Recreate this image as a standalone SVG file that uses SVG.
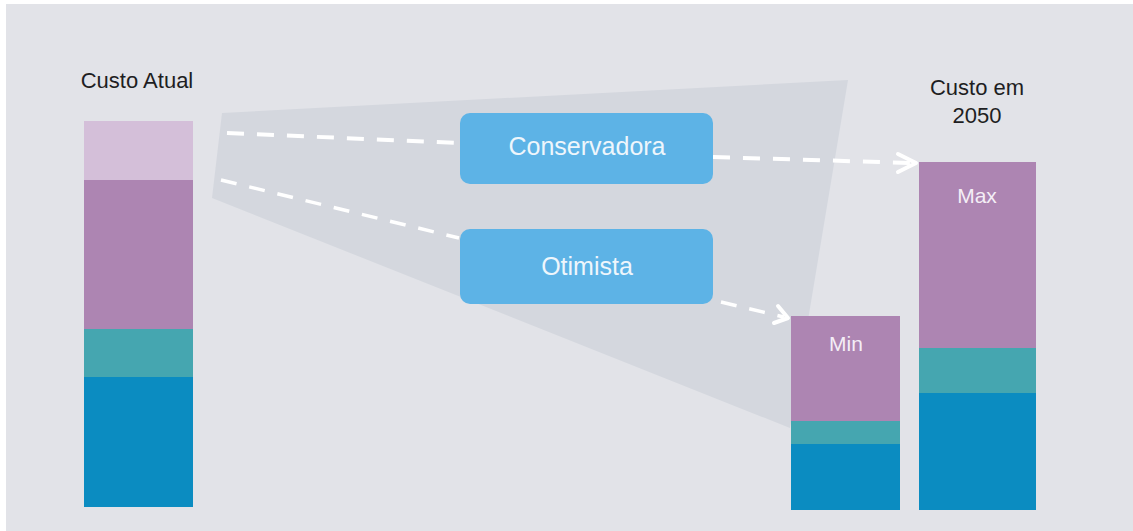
<svg xmlns="http://www.w3.org/2000/svg" width="1133" height="531" viewBox="0 0 1133 531">
  <defs>
    <style>
      .lbl { font-family: "Liberation Sans", Arial, sans-serif; font-size: 22px; fill: #1e1e22; text-anchor: middle; }
      .box { fill: #5db3e6; }
      .boxtxt { font-family: "Liberation Sans", Arial, sans-serif; font-size: 25px; fill: #eef6fc; text-anchor: middle; }
      .bartxt { font-family: "Liberation Sans", Arial, sans-serif; font-size: 21px; fill: #f4eef6; text-anchor: middle; }
      .lp { fill: #d4bfd9; }
      .pu { fill: #ad85b2; }
      .te { fill: #45a6b0; }
      .bl { fill: #0b8cc1; }
      .dash { fill: none; stroke: #ffffff; stroke-width: 4; stroke-dasharray: 17 13; }
      .dash2 { fill: none; stroke: #ffffff; stroke-width: 3.5; stroke-dasharray: 16 13; }
      .head { fill: none; stroke: #ffffff; stroke-width: 4; stroke-linecap: round; stroke-linejoin: round; }
    </style>
  </defs>
  <rect x="0" y="0" width="1133" height="531" fill="#ffffff"/>
  <rect x="6" y="4" width="1127" height="527" fill="#e2e3e8"/>
  <polygon points="222,113 848,80 790,428 212,198" fill="#d4d7de"/>

  <g id="custo-atual">
    <text class="lbl" x="137" y="88">Custo Atual</text>
    <rect class="lp" x="84" y="121" width="109" height="59"/>
    <rect class="pu" x="84" y="180" width="109" height="149"/>
    <rect class="te" x="84" y="329" width="109" height="48"/>
    <rect class="bl" x="84" y="377" width="109" height="130"/>
  </g>

  <g id="custo-2050-label">
    <text class="lbl" x="977" y="95">Custo em</text>
    <text class="lbl" x="977" y="123">2050</text>
  </g>

  <g id="min-bar">
    <rect class="pu" x="791" y="316" width="109" height="105"/>
    <rect class="te" x="791" y="421" width="109" height="23"/>
    <rect class="bl" x="791" y="444" width="109" height="66"/>
    <text class="bartxt" x="846" y="351">Min</text>
  </g>

  <g id="max-bar">
    <rect class="pu" x="919" y="162" width="117" height="186"/>
    <rect class="te" x="919" y="348" width="117" height="45"/>
    <rect class="bl" x="919" y="393" width="117" height="117"/>
    <text class="bartxt" x="977" y="203">Max</text>
  </g>

  <g id="connectors">
    <line class="dash" x1="227" y1="133" x2="459" y2="143"/>
    <line class="dash" x1="713" y1="157" x2="912" y2="163"/>
    <polyline class="head" points="898,154 916,163 898,172"/>
    <line class="dash2" x1="221" y1="180" x2="459" y2="238"/>
    <line class="dash2" x1="721" y1="302" x2="784" y2="317"/>
    <polyline class="head" points="778,306 788,318 774,323"/>
  </g>

  <g id="conservadora">
    <rect class="box" x="460" y="113" width="253" height="71" rx="10"/>
    <text class="boxtxt" x="587" y="155">Conservadora</text>
  </g>

  <g id="otimista">
    <rect class="box" x="460" y="229" width="253" height="75" rx="10"/>
    <text class="boxtxt" x="587" y="275">Otimista</text>
  </g>
</svg>
